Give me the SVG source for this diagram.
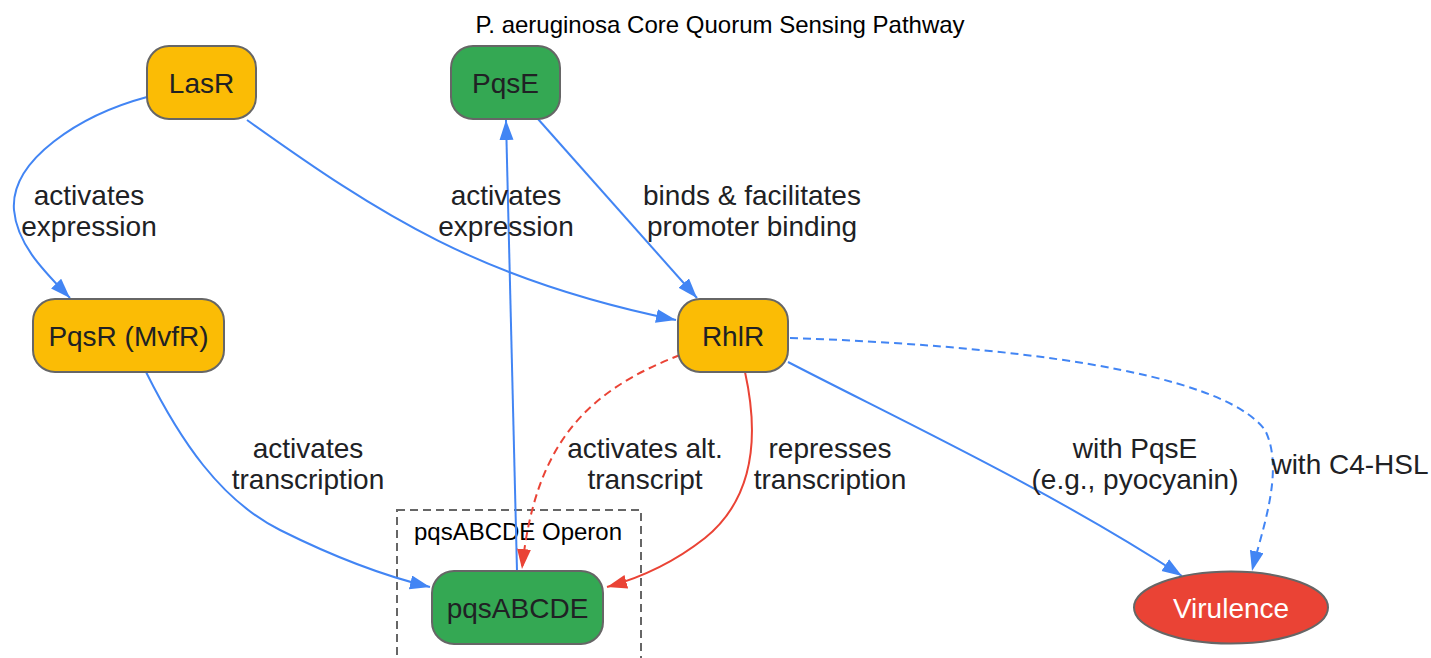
<svg xmlns="http://www.w3.org/2000/svg" width="1431" height="658" viewBox="0 0 1431 658">
<style>
.node{stroke:#666;stroke-width:2}
.y{fill:#FBBC05}
.g{fill:#34A853}
.r{fill:#EA4335}
.t{font-family:"Liberation Sans",Arial,sans-serif;font-size:28px;fill:#202124;text-anchor:middle}
.lbl{font-family:"Liberation Sans",Arial,sans-serif;font-size:24px;fill:#000;text-anchor:middle}
.eb{fill:none;stroke:#4285F4;stroke-width:2}
.er{fill:none;stroke:#EA4335;stroke-width:2}
.d{stroke-dasharray:8,5}
</style>
<defs>
<marker id="ab" markerUnits="userSpaceOnUse" markerWidth="22" markerHeight="16" refX="20" refY="7" orient="auto"><path d="M0,0 L20,7 L0,14 Z" fill="#4285F4"/></marker>
<marker id="ar" markerUnits="userSpaceOnUse" markerWidth="22" markerHeight="16" refX="20" refY="7" orient="auto"><path d="M0,0 L20,7 L0,14 Z" fill="#EA4335"/></marker>
</defs>
<rect width="1431" height="658" fill="#fff"/>
<text class="lbl" x="720" y="33">P. aeruginosa Core Quorum Sensing Pathway</text>
<g id="cluster_operon">
<rect x="397" y="510" width="244" height="160" fill="none" stroke="#666" stroke-width="2" stroke-dasharray="8,5"/>
<text class="lbl" x="518" y="540">pqsABCDE Operon</text>
</g>
<g id="edges">
<path class="eb" d="M147,97 C80,115 10,160 14,210 C17,245 45,272 70,298" marker-end="url(#ab)"/>
<path class="eb" d="M247,120 C380,215 480,280 676,320" marker-end="url(#ab)"/>
<path class="eb" d="M538,119 L697,298" marker-end="url(#ab)"/>
<path class="eb" d="M517,571 L506,120" marker-end="url(#ab)"/>
<path class="eb" d="M146,372 C180,440 220,500 280,530 C330,555 380,575 430,587" marker-end="url(#ab)"/>
<path class="er d" d="M680,355 C590,390 535,440 522,569" marker-end="url(#ar)"/>
<path class="er" d="M745,372 C760,440 752,500 705,538 C672,564 640,578 607,587" marker-end="url(#ar)"/>
<path class="eb" d="M788,362 C900,420 1050,490 1182,576" marker-end="url(#ab)"/>
<path class="eb d" d="M790,338 C1000,345 1220,370 1265,430 C1285,470 1262,530 1252,571" marker-end="url(#ab)"/>
<text class="t" x="89" y="205">activates</text>
<text class="t" x="89" y="236">expression</text>
<text class="t" x="506" y="205">activates</text>
<text class="t" x="506" y="236">expression</text>
<text class="t" x="752" y="205">binds &amp; facilitates</text>
<text class="t" x="752" y="236">promoter binding</text>
<text class="t" x="308" y="458">activates</text>
<text class="t" x="308" y="489">transcription</text>
<text class="t" x="645" y="458">activates alt.</text>
<text class="t" x="645" y="489">transcript</text>
<text class="t" x="830" y="458">represses</text>
<text class="t" x="830" y="489">transcription</text>
<text class="t" x="1135" y="458">with PqsE</text>
<text class="t" x="1135" y="489">(e.g., pyocyanin)</text>
<text class="t" x="1350" y="474">with C4-HSL</text>
</g>
<g id="LasR"><rect class="node y" x="147" y="46" width="109" height="73" rx="22"/><text class="t" x="201.5" y="92.5">LasR</text></g>
<g id="PqsE"><rect class="node g" x="451" y="46" width="109" height="73" rx="22"/><text class="t" x="505.5" y="92.5">PqsE</text></g>
<g id="PqsR"><rect class="node y" x="33" y="299" width="191" height="73" rx="22"/><text class="t" x="128.5" y="345.5">PqsR (MvfR)</text></g>
<g id="RhlR"><rect class="node y" x="678" y="299" width="110" height="73" rx="22"/><text class="t" x="733" y="345.5">RhlR</text></g>
<g id="pqsABCDE"><rect class="node g" x="432" y="571" width="171" height="73" rx="22"/><text class="t" x="517.5" y="617.5">pqsABCDE</text></g>
<g id="Virulence"><ellipse class="node r" cx="1231" cy="607.5" rx="97" ry="36"/><text class="t" x="1231" y="617.5" style="fill:#fff">Virulence</text></g>
</svg>
